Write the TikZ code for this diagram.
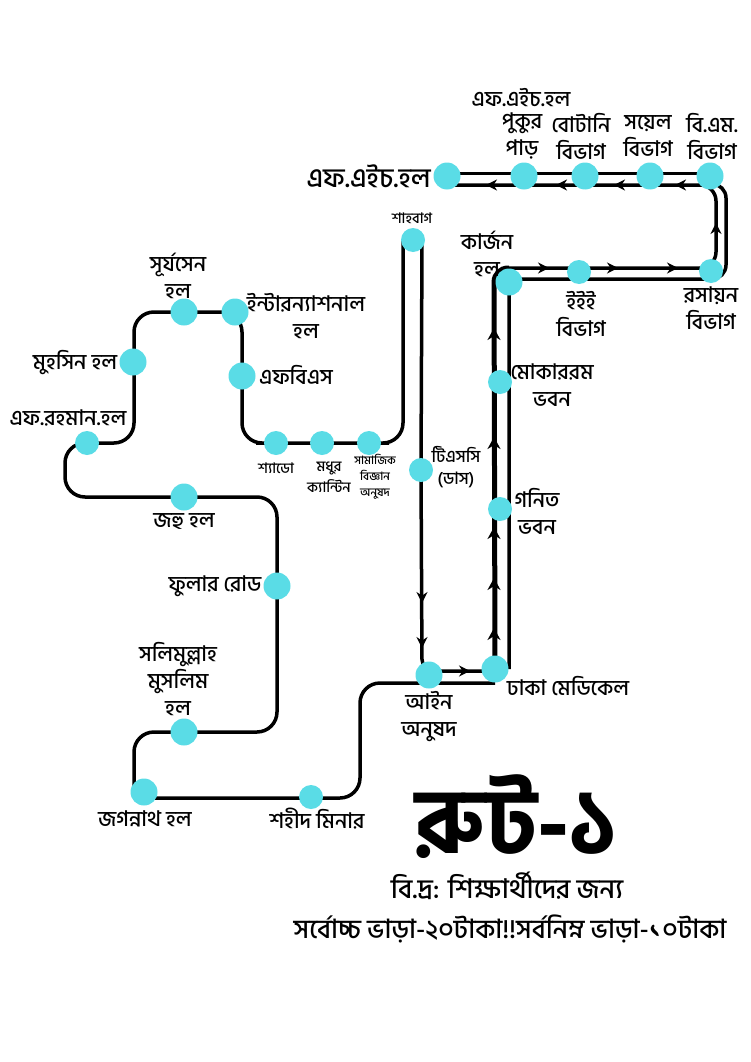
\documentclass[tikz,border=0pt]{standalone}
\usepackage{fontspec}
\setmainfont[Script=Bengali,UprightFont={* Medium},BoldFont={* Bold}]{Hind Siliguri}
\usetikzlibrary{arrows.meta,calc,backgrounds}
\definecolor{stncyan}{RGB}{90,220,230}

\begin{document}
\begin{tikzpicture}[
    x=1pt, y=-1pt,
    stn/.style={circle, fill=stncyan, inner sep=0pt, minimum size=27pt},
    stnsmall/.style={stn, minimum size=24pt},
    lbl/.style={align=center, inner sep=0pt, font=\fontsize{21.5}{27}\selectfont},
    lblsmall/.style={lbl, font=\fontsize{14.5}{21}\selectfont},
    lbltiny/.style={lbl, font=\fontsize{11.5}{16}\selectfont},
    routeline/.style={draw=black, line width=3.5pt, rounded corners=20pt},
    uptrack/.style={routeline, line width=5pt},
    tipmark/.style={-{Stealth[length=11pt,width=11pt]}, line width=2pt}
]
\useasboundingbox (0,0) rectangle (750,1062);

% Stations
\foreach \stnname/\x/\y in {fh-hall/447/176, pukur/524/176, botany/585/176, science/650/176, bm-dept/710/176,
    curzon/509/282, dmc/495/669, surjasen/184/312, intl-hall/235/312, fbs/242/376, jahu/184/497,
    salimullah/184/732, jagannath/144/792, muhsin/133/362, fuller/277/586, ain/429/675} {
    \node[stn] (\stnname) at (\x,\y) {};
}
\foreach \stnname/\x/\y in {rosayon/711/271, eee/579/272, mokarram/500/382, gonit/500/509, tsc/421/470,
    shahbag/413/240, shahid/311/797, frahman/87/443, shado/276/443, madhur/322/443, samajik/369/443} {
    \node[stnsmall] (\stnname) at (\x,\y) {};
}

% Corners of the route
\coordinate (corner-a) at (134,732);
\coordinate (corner-b) at (277,732);
\coordinate (corner-c) at (277,497);
\coordinate (corner-d) at (65,497);
\coordinate (corner-e) at (65,443);
\coordinate (corner-f) at (134,443);
\coordinate (corner-g) at (134,312);
\coordinate (corner-h) at (242,312);
\coordinate (corner-i) at (242,443);
\coordinate (corner-j) at (403,443);
\coordinate (corner-k) at (422,671);
\coordinate (corner-l) at (360,798);
\coordinate (corner-m) at (360,683);
\coordinate (corner-n) at (494,268);
\coordinate (corner-o) at (716,268);
\coordinate (corner-p) at (716,185);
\coordinate (corner-q) at (726,184);
\coordinate (corner-r) at (726,279);
\coordinate (corner-s) at (509,279);

% Tracks go under the stations
\begin{scope}[on background layer]
    \draw[routeline] ($(jagannath)+(-10,0)$) -- (corner-a) -- (salimullah.center) -- (corner-b)
        -- (corner-c) -- (jahu.center) -- (corner-d) -- (corner-e) -- (frahman.center);
    \draw[routeline] (frahman.center) -- (corner-f)
        -- (corner-g) -- (surjasen.center) -- (corner-h) -- (fbs.center) -- (corner-i) -- (shado.center)
        -- (madhur.center) -- (samajik.center) -- (corner-j) -- ($(shahbag)+(-10,0)$);
    \draw[routeline, rounded corners=12pt] ($(shahbag)+(9,0)$) -- (tsc.center) -- (corner-k) -- ($(dmc)+(0,2)$);
    \draw[routeline] ($(jagannath)+(0,6)$) -- (corner-l) -- (corner-m) -- ($(dmc)+(0,14)$);
    \draw[uptrack, rounded corners=14pt] (dmc.center) -- (corner-n) -- ($(curzon)+(0,-14)$);
    \draw[routeline, rounded corners=16pt] ($(curzon)+(0,-14)$) -- (corner-o) -- (corner-p) -- ($(fh-hall)+(0,9)$);
    \draw[routeline, line width=3pt] ($(fh-hall)+(0,-3)$) -- ($(bm-dept)+(0,-3)$);
    \draw[routeline, rounded corners=14pt] ($(bm-dept)+(0,8)$) -- (corner-q) -- (corner-r) -- (corner-s) -- ($(dmc)+(14,0)$);
\end{scope}

% Direction marks
\foreach \x in {486,556,614,675} {
    \draw[tipmark] (\x+8,185) -- (\x,185);
}
\foreach \x in {549,618,678} {
    \draw[tipmark] (\x-8,268) -- (\x,268);
}
\draw[tipmark] (462,671) -- (470,671);
\draw[tipmark] (716,231) -- (716,223);
\foreach \y in {328,437,527,578,628} {
    \draw[tipmark, -{Stealth[length=12pt,width=13pt]}] (494,\y+8) -- (494,\y);
}
\foreach \y in {603,648} {
    \draw[tipmark] (422,\y-8) -- (422,\y);
}

% Labels of the upper line
\node[lbl, font=\fontsize{27}{30}\selectfont, anchor=east] (fh-label) at (431,176) {এফ.এইচ.হল};
\node[lbl] (fh-pond-label) at (521,98) {এফ.এইচ.হল};
\node[lbl] (pukur-label) at (522,136) {পুকুর\\পাড়};
\node[lbl] (botany-label) at (581,136) {বোটানি\\বিভাগ};
\node[lbl] (science-label) at (648,136) {সয়েল\\বিভাগ};
\node[lbl] (bm-label) at (712,136) {বি.এম.\\বিভাগ};
\node[lbl] (curzon-label) at (487,254) {কার্জন\\হল};
\node[lbl] (eee-label) at (581,314) {ইইই\\বিভাগ};
\node[lbl] (rosayon-label) at (711,308) {রসায়ন\\বিভাগ};
\node[lbl] (mokarram-label) at (552,385) {মোকাররম\\ভবন};
\node[lbl] (gonit-label) at (537,511) {গনিত\\ভবন};
\node[lblsmall] (shahbag-label) at (412,218) {শাহবাগ};
\node[lblsmall, font=\fontsize{17}{22}\selectfont] (tsc-label) at (456,467) {টিএসসি\\(ডাস)};
\node[lbl] (dmc-label) at (568,686) {ঢাকা মেডিকেল};
\node[lbl] (ain-label) at (429,717) {আইন\\অনুষদ};

% Labels of the left line
\node[lbl] (shahid-label) at (317,819) {শহীদ মিনার};
\node[lbl] (jagannath-label) at (145,819) {জগন্নাথ হল};
\node[lbl] (salimullah-label) at (178,679) {সলিমুল্লাহ\\মুসলিম\\হল};
\node[lbl] (fuller-label) at (215,586) {ফুলার রোড};
\node[lbl] (jahu-label) at (184,521) {জহু হল};
\node[lbl] (frahman-label) at (68,418) {এফ.রহমান.হল};
\node[lbl] (muhsin-label) at (75,363) {মুহসিন হল};
\node[lbl] (surjasen-label) at (178,276) {সূর্যসেন\\হল};
\node[lbl] (intl-label) at (306,316) {ইন্টারন্যাশনাল\\হল};
\node[lbl] (fbs-label) at (296,375) {এফবিএস};
\node[lblsmall] (shado-label) at (276,468) {শ্যাডো};
\node[lblsmall] (madhur-label) at (329,477) {মধুর\\ক্যান্টিন};
\node[lbltiny] (samajik-label) at (375,477) {সামাজিক\\বিজ্ঞান\\অনুষদ};

% Title block
\node[lbl, font=\fontsize{90}{90}\selectfont\bfseries] (title-label) at (516,817) {রুট-১};
\node[lbl, font=\fontsize{27}{30}\selectfont] (note-label) at (507,886) {বি.দ্র: শিক্ষার্থীদের জন্য};
\node[lbl, font=\fontsize{26.5}{30}\selectfont] (fare-label) at (510,929) {সর্বোচ্চ ভাড়া-২০টাকা!!সর্বনিম্ন ভাড়া-১০টাকা};

\end{tikzpicture}
\end{document}
